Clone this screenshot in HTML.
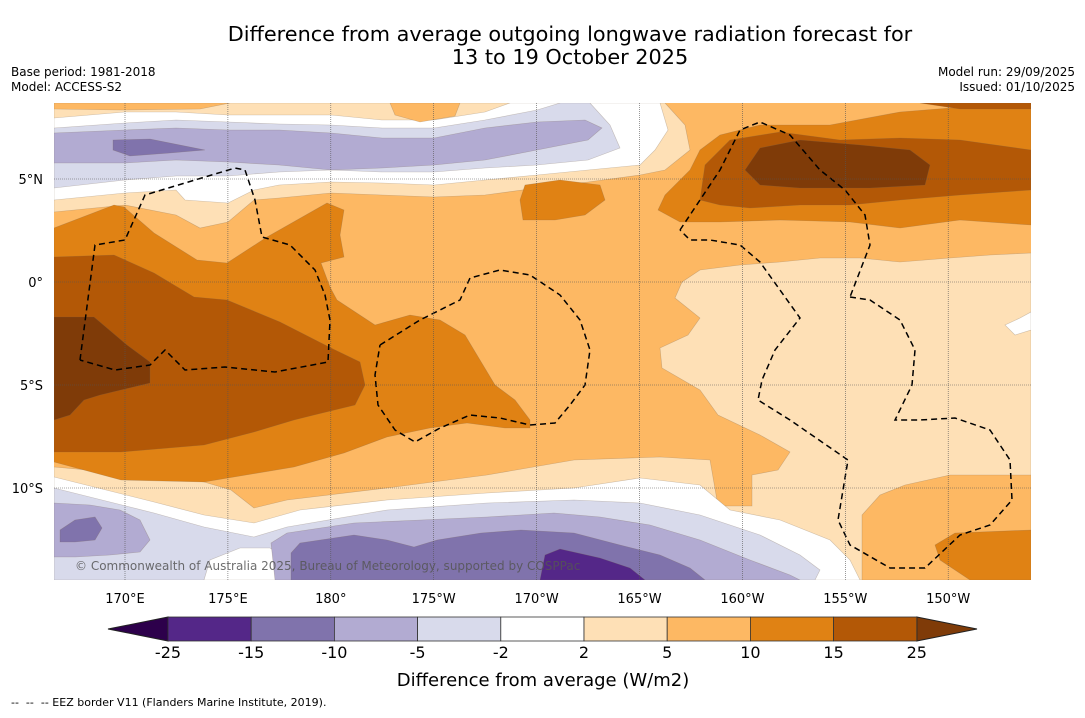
<!DOCTYPE html>
<html><head><meta charset="utf-8"><style>
body{margin:0;background:#fff;width:1085px;height:713px;overflow:hidden;font-family:"Liberation Sans","DejaVu Sans",sans-serif}
svg text{font-family:"DejaVu Sans","Liberation Sans",sans-serif}
</style></head><body>
<svg id="chart" width="1085" height="713" viewBox="0 0 1085 713">
<text x="570" y="41" font-size="20.8" text-anchor="middle">Difference from average outgoing longwave radiation forecast for</text>
<text x="570" y="64" font-size="20.8" text-anchor="middle">13 to 19 October 2025</text>
<text x="11" y="76" font-size="12">Base period: 1981-2018</text>
<text x="11" y="91" font-size="12">Model: ACCESS-S2</text>
<text x="1075" y="76" font-size="12" text-anchor="end">Model run: 29/09/2025</text>
<text x="1075" y="91" font-size="12" text-anchor="end">Issued: 01/10/2025</text>
<defs><clipPath id="mapclip"><rect x="54" y="103" width="977" height="477"/></clipPath></defs>
<g id="map" clip-path="url(#mapclip)"></g>
<g id="axes"></g>
<g id="cbar"></g>
<text x="543" y="686" font-size="18" text-anchor="middle">Difference from average (W/m2)</text>
<text x="11" y="706" font-size="11">-- &#160;-- &#160;-- EEZ border V11 (Flanders Marine Institute, 2019).</text>
</svg>
<script>
const levels=[-25,-15,-10,-5,-2,2,5,10,15,25];
const levelColors=["#2d004b","#542788","#8073ac","#b2abd2","#d8daeb","#ffffff","#fee0b6","#fdb863","#e08214","#b35806","#7f3b08"];
const lonTicks=[170,175,180,185,190,195,200,205,210];
const lonLabels=["170°E","175°E","180°","175°W","170°W","165°W","160°W","155°W","150°W"];
const latTicks=[5,0,-5,-10];
const latLabels=["5°N","0°","5°S","10°S"];
const X=lon=>125+(lon-170)*20.58;
const Y=lat=>282-lat*20.6;
const NS="http://www.w3.org/2000/svg";
const C=v=>levelColors[v];
const T=103,B=580;
const Pb=[[54,212],[125,205],[176,215],[200,228],[228,222],[254,200],[279,198],[331,193],[382,195],[434,197],[485,195],[537,188],[588,182],[640,175],[665,170],[690,150],[685,125],[665,103]];
const Wb=[[54,200],[125,193],[176,190],[185,200],[228,203],[254,190],[279,185],[331,182],[382,183],[434,185],[485,180],[537,175],[588,170],[640,165],[655,150],[668,130],[660,103]];
const Lb=[[54,188],[125,180],[176,176],[228,176],[279,172],[331,170],[382,172],[434,172],[485,168],[537,165],[588,160],[620,148],[610,125],[590,103]];
const PuB=[[54,163],[125,163],[176,160],[228,162],[279,165],[331,170],[382,168],[434,165],[485,160],[537,150],[588,140],[602,128]];
const PuT=[[585,120],[537,122],[485,128],[434,138],[382,138],[331,133],[279,130],[228,130],[176,128],[125,130],[54,133]];
const Lt=[[54,128],[125,123],[176,120],[228,122],[279,124],[331,125],[382,128],[434,128],[485,120],[537,110],[560,103]];
const Wt=[[54,118],[125,112],[176,112],[228,115],[279,115],[331,115],[382,120],[434,120],[485,112],[510,103]];
const topPoly=(c)=>[[54,T]].concat(c,[[c[c.length-1][0],T]]);
const shapes=[
 [6,topPoly(Pb)],[5,topPoly(Wb)],[4,topPoly(Lb)],[3,PuB.concat(PuT)],
 [2,[[113,140],[150,139],[205,150],[170,153],[130,156],[113,150]]],
 [5,topPoly(Lt)],[6,topPoly(Wt)],
 [7,[[54,103],[230,103],[200,109],[120,110],[54,109]]],
 [7,[[390,103],[460,103],[455,116],[420,122],[395,115]]],
 [6,[[1031,253],[990,255],[950,258],[900,262],[860,258],[820,258],[780,262],[740,265],[700,270],[682,282],[675,298],[700,318],[688,335],[660,348],[662,368],[700,390],[718,415],[760,435],[790,452],[778,470],[752,475],[752,506],[718,506],[710,460],[660,457],[574,460],[487,475],[387,488],[287,500],[254,508],[231,490],[204,482],[154,476],[54,467],[54,580],[1031,580]]],
 [5,[[54,477],[154,502],[204,515],[254,523],[300,510],[387,500],[487,493],[574,488],[640,478],[700,485],[730,510],[780,520],[830,540],[850,560],[860,580],[54,580]]],
 [4,[[54,488],[154,513],[204,527],[254,537],[287,527],[387,510],[487,503],[574,500],[640,503],[700,515],[760,535],[800,555],[820,570],[815,580],[54,580]]],
 [5,[[204,580],[210,560],[240,548],[270,548],[290,560],[295,580]]],
 [3,[[54,503],[90,505],[120,510],[140,520],[150,540],[140,552],[110,555],[75,557],[54,557]]],
 [2,[[60,530],[75,520],[95,517],[102,528],[95,540],[75,542],[60,542]]],
 [3,[[275,580],[271,543],[287,533],[354,523],[421,520],[487,517],[554,513],[600,517],[650,525],[700,540],[750,560],[790,575],[800,580]]],
 [2,[[291,580],[291,553],[300,543],[354,535],[387,540],[414,547],[437,540],[481,533],[521,530],[574,533],[620,545],[660,555],[690,568],[705,580]]],
 [1,[[540,580],[545,555],[560,549],[600,558],[630,568],[645,580]]],
 [5,[[1005,325],[1020,318],[1031,312],[1031,330],[1015,335]]],
 [8,[[658,210],[665,195],[690,170],[700,150],[720,135],[760,125],[830,125],[900,112],[950,108],[1031,108],[1031,225],[960,220],[900,228],[850,222],[780,220],[720,222],[680,222]]],
 [9,[[920,103],[1031,103],[1031,109],[960,109]]],
 [9,[[700,200],[705,165],[730,140],[780,132],[840,140],[900,138],[960,140],[1031,150],[1031,190],[960,195],[900,200],[850,205],[800,205],[750,208],[720,205]]],
 [10,[[745,170],[760,148],[800,140],[860,145],[910,150],[930,165],[925,185],[870,188],[800,188],[760,185]]],
 [8,[[520,200],[525,185],[560,180],[600,185],[605,200],[585,215],[555,220],[523,220]]],
 [8,[[54,228],[114,205],[124,207],[154,233],[197,260],[227,263],[267,237],[327,203],[344,210],[340,235],[344,257],[321,263],[330,287],[337,300],[375,325],[410,315],[440,320],[465,335],[480,360],[495,385],[515,400],[530,420],[530,428],[505,428],[467,423],[430,428],[387,437],[344,453],[294,467],[204,482],[121,480],[54,462]]],
 [9,[[54,257],[114,255],[154,273],[194,297],[227,300],[280,322],[331,348],[360,362],[365,385],[355,405],[314,415],[294,420],[254,432],[204,445],[121,452],[54,452]]],
 [10,[[54,317],[94,317],[127,345],[150,362],[150,383],[100,395],[84,400],[70,415],[54,420]]],
 [7,[[862,580],[862,515],[880,495],[905,485],[950,475],[1031,475],[1031,580]]],
 [8,[[935,545],[955,533],[1031,530],[1031,580],[970,580],[940,560]]]
];
const eez=[
 [[80,360],[95,245],[125,240],[145,195],[235,168],[245,170],[255,200],[262,237],[290,245],[315,270],[325,295],[330,320],[328,362],[275,372],[225,367],[185,370],[165,350],[150,365],[115,370],[80,360]],
 [[380,345],[420,320],[460,300],[470,278],[500,270],[530,275],[560,295],[580,320],[590,350],[585,385],[570,405],[555,423],[530,425],[500,418],[470,415],[440,428],[415,442],[395,430],[378,405],[375,375],[380,345]],
 [[680,230],[700,200],[720,170],[740,130],[760,122],[790,135],[820,170],[845,190],[865,215],[870,245],[850,297]],
 [[850,297],[870,300],[900,320],[915,350],[912,385],[895,420],[920,420],[955,418],[990,430],[1010,460],[1012,500],[990,525],[960,535],[925,568],[890,568],[850,545],[838,520],[848,460],[790,420],[758,400],[762,380],[775,350],[800,318],[780,290],[760,262],[740,245],[710,240],[690,240],[680,230]]
];
const map=document.getElementById('map');
const bg=document.createElementNS(NS,'rect');
bg.setAttribute('x',54);bg.setAttribute('y',103);bg.setAttribute('width',977);bg.setAttribute('height',477);bg.setAttribute('fill',C(7));


map.appendChild(bg);
shapes.forEach((s,i)=>{
 const p=document.createElementNS(NS,'polygon');
 p.setAttribute('points',s[1].map(q=>q.join(',')).join(' '));
 p.setAttribute('fill',C(s[0]));p.setAttribute('stroke','rgba(120,100,80,0.35)');p.setAttribute('stroke-width','0.6');
 
 
 map.appendChild(p);
});
eez.forEach(l=>{
 const p=document.createElementNS(NS,'polyline');
 p.setAttribute('points',l.map(q=>q.join(',')).join(' '));
 p.setAttribute('fill','none');p.setAttribute('stroke','#000');p.setAttribute('stroke-width','1.5');p.setAttribute('stroke-dasharray','6,4');
 
 
 map.appendChild(p);
});
lonTicks.forEach(l=>{
 const g=document.createElementNS(NS,'line');
 g.setAttribute('x1',X(l));g.setAttribute('x2',X(l));g.setAttribute('y1',103);g.setAttribute('y2',580);
 g.setAttribute('stroke','#555');g.setAttribute('stroke-width','0.6');g.setAttribute('stroke-dasharray','1,1');
 
 
 map.appendChild(g);
});
latTicks.forEach(l=>{
 const g=document.createElementNS(NS,'line');
 g.setAttribute('y1',Y(l));g.setAttribute('y2',Y(l));g.setAttribute('x1',54);g.setAttribute('x2',1031);
 g.setAttribute('stroke','#555');g.setAttribute('stroke-width','0.6');g.setAttribute('stroke-dasharray','1,1');
 
 
 map.appendChild(g);
});
const cp=document.createElementNS(NS,'text');
cp.setAttribute('x',75);cp.setAttribute('y',570);cp.setAttribute('font-size','12');cp.setAttribute('fill','#555');cp.setAttribute('opacity','0.85');
cp.textContent='© Commonwealth of Australia 2025, Bureau of Meteorology, supported by COSPPac';


map.appendChild(cp);
const axes=document.getElementById('axes');
lonTicks.forEach((l,i)=>{
 const t=document.createElementNS(NS,'text');
 t.setAttribute('x',X(l));t.setAttribute('y',603);t.setAttribute('font-size','13');t.setAttribute('text-anchor','middle');
 t.textContent=lonLabels[i];
 
 
 axes.appendChild(t);
});
latTicks.forEach((l,i)=>{
 const t=document.createElementNS(NS,'text');
 t.setAttribute('x',43);t.setAttribute('y',Y(l)+5);t.setAttribute('font-size','13');t.setAttribute('text-anchor','end');
 t.textContent=latLabels[i];
 
 
 axes.appendChild(t);
});
const cb=document.getElementById('cbar');
const cx0=168,cw=83.2,cy=617,ch=24;
const lt=document.createElementNS(NS,'polygon');
lt.setAttribute('points',`${cx0},${cy} ${cx0},${cy+ch} 108,${cy+ch/2}`);lt.setAttribute('fill',C(0));lt.setAttribute('stroke','#222');


cb.appendChild(lt);
const nb=levels.length-1;
const rt=document.createElementNS(NS,'polygon');
rt.setAttribute('points',`${cx0+nb*cw},${cy} ${cx0+nb*cw},${cy+ch} 977,${cy+ch/2}`);rt.setAttribute('fill',C(10));rt.setAttribute('stroke','#222');


cb.appendChild(rt);
for(let i=0;i<nb;i++){
 const r=document.createElementNS(NS,'rect');
 r.setAttribute('x',cx0+i*cw);r.setAttribute('y',cy);r.setAttribute('width',cw);r.setAttribute('height',ch);
 r.setAttribute('fill',C(i+1));r.setAttribute('stroke','#333');r.setAttribute('stroke-width','0.8');
 
 
 cb.appendChild(r);
}
levels.forEach((v,i)=>{
 const t=document.createElementNS(NS,'text');
 t.setAttribute('x',cx0+i*cw);t.setAttribute('y',658);t.setAttribute('font-size','16');t.setAttribute('text-anchor','middle');
 t.textContent=v;
 
 
 cb.appendChild(t);
});
</script>
</body></html>
